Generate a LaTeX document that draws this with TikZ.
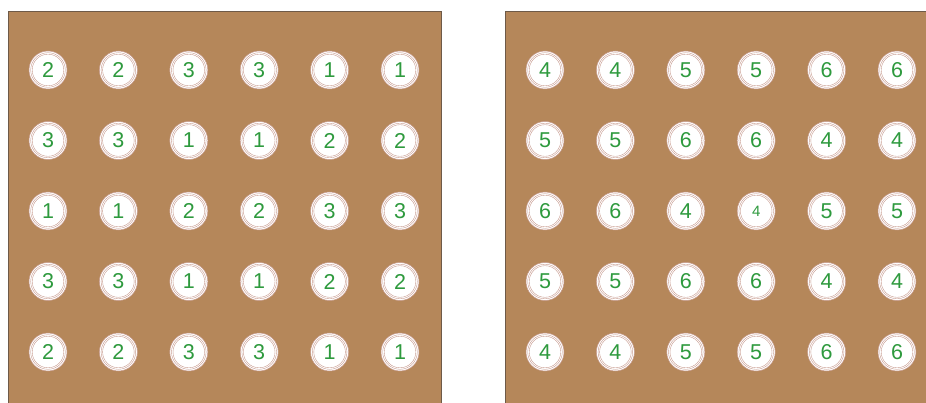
\documentclass[tikz,border=0pt]{standalone}
\usepackage{fontspec}
\setmainfont{Liberation Sans}
\definecolor{board}{HTML}{B5875A}
\definecolor{boardedge}{HTML}{6E5A48}
\definecolor{ringc}{HTML}{C79A8E}
\definecolor{digit}{HTML}{2E9A3E}
\begin{document}
\begin{tikzpicture}[x=1pt,y=-1pt,
  panel/.style={fill=board,draw=boardedge,line width=0.8pt},
  disc/.style={circle,fill=white,draw=ringc,line width=0.5pt,minimum size=38pt,inner sep=0pt,
    text=digit,font=\fontsize{21.5}{21.5}\selectfont},
  ring/.style={draw=ringc,line width=0.4pt}]
\useasboundingbox (0,0) rectangle (926,403);
\path[panel] (8,11) rectangle (441,420);
\path[panel] (505,11) rectangle (940,420);
% left panel
\foreach \row [count=\r] in {{2,2,3,3,1,1},{3,3,1,1,2,2},{1,1,2,2,3,3},{3,3,1,1,2,2},{2,2,3,3,1,1}}{
  \foreach \d [count=\c] in \row {
    \node[disc] (L-\r-\c) at ({48+70.4*(\c-1)},{70+70.5*(\r-1)}) {\d};
    \draw[ring] (L-\r-\c.center) circle (17.3pt);
    \draw[ring] (L-\r-\c.center) circle (15.8pt);
  }
}
% right panel
\foreach \row [count=\r] in {{4,4,5,5,6,6},{5,5,6,6,4,4},{6,6,4,4,5,5},{5,5,6,6,4,4},{4,4,5,5,6,6}}{
  \foreach \d [count=\c] in \row {
    \ifnum\r=3 \ifnum\c=4
      \node[disc,font=\fontsize{15}{15}\selectfont] (R-\r-\c) at ({545+70.4*(\c-1)},{70+70.5*(\r-1)}) {\d};
    \else
      \node[disc] (R-\r-\c) at ({545+70.4*(\c-1)},{70+70.5*(\r-1)}) {\d};
    \fi\else
      \node[disc] (R-\r-\c) at ({545+70.4*(\c-1)},{70+70.5*(\r-1)}) {\d};
    \fi
    \draw[ring] (R-\r-\c.center) circle (17.3pt);
    \draw[ring] (R-\r-\c.center) circle (15.8pt);
  }
}
\end{tikzpicture}
\end{document}
